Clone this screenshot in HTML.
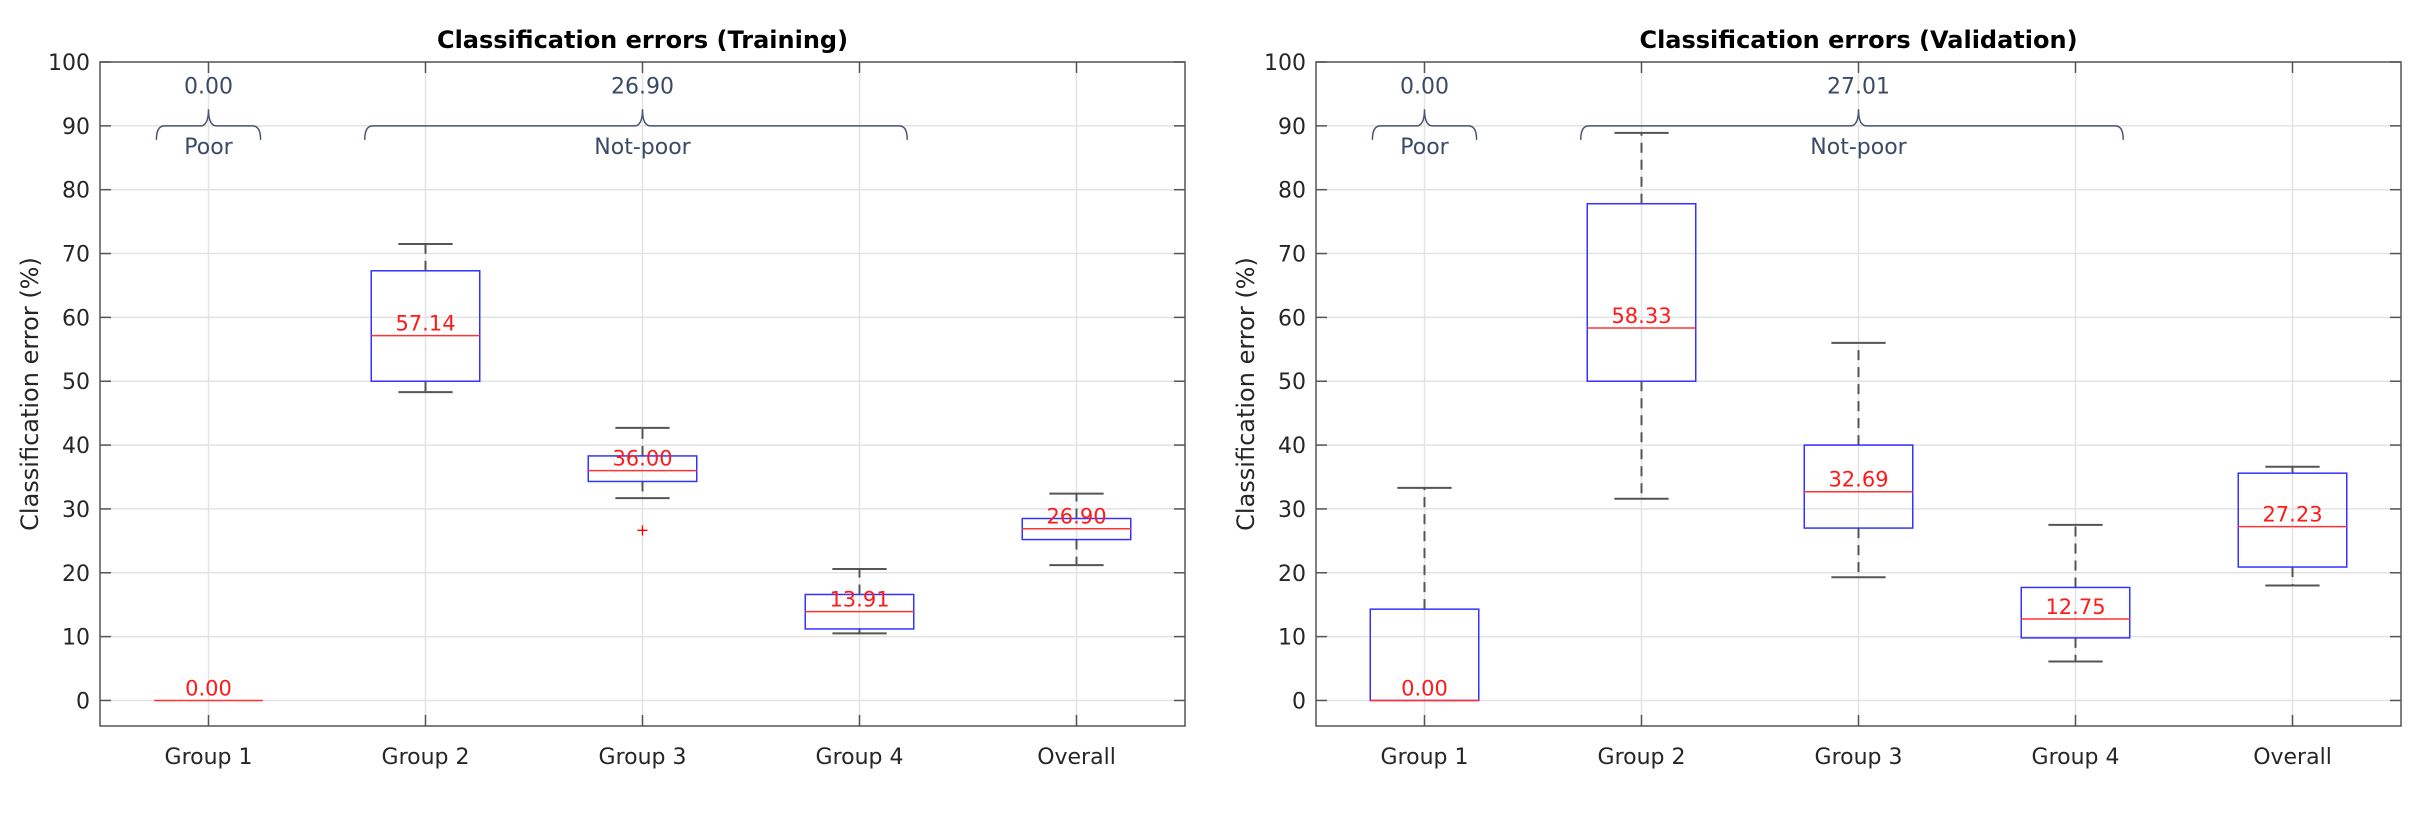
<!DOCTYPE html>
<html><head><meta charset="utf-8"><style>
html,body{margin:0;padding:0;background:#fff;width:2423px;height:817px;overflow:hidden}
svg text{font-family:"DejaVu Sans","Liberation Sans",sans-serif}
</style></head><body>
<svg id="chart" width="2423" height="817" xmlns="http://www.w3.org/2000/svg"></svg>
<script>
const categories = ["Group 1","Group 2","Group 3","Group 4","Overall"];
const yTicks = [0,10,20,30,40,50,60,70,80,90,100];
// Training
const trainLow = [0, 48.3, 31.7, 10.5, 21.2];
const trainQ1 = [0, 50.0, 34.3, 11.2, 25.2];
const trainMed = [0, 57.14, 36.00, 13.91, 26.90];
const trainQ3 = [0, 67.3, 38.3, 16.6, 28.5];
const trainHigh = [0, 71.5, 42.7, 20.6, 32.4];
const trainOutX = [3];
const trainOutY = [26.8];
const trainGroupVals = ["0.00","26.90"];
// Validation
const valLow = [0, 31.6, 19.3, 6.1, 18.0];
const valQ1 = [0, 50.0, 27.0, 9.8, 20.9];
const valMed = [0, 58.33, 32.69, 12.75, 27.23];
const valQ3 = [14.3, 77.8, 40.0, 17.7, 35.6];
const valHigh = [33.3, 88.9, 56.0, 27.5, 36.6];
const valOutX = [];
const valOutY = [];
const valGroupVals = ["0.00","27.01"];
const braceLabels = ["Poor","Not-poor"];
const braceStart = [0.76, 1.72];
const braceEnd = [1.24, 4.22];
const braceTip = [1, 3];

const NS="http://www.w3.org/2000/svg";
const svg=document.getElementById('chart');
function mk(tag,attrs,parent,text){const e=document.createElementNS(NS,tag);for(const k in attrs)e.setAttribute(k,attrs[k]);if(text!==undefined)e.textContent=text;(parent||svg).appendChild(e);return e;}

function panel(x0,x1,title,low,q1,med,q3,high,outX,outY,gvals,key){
  const y0=62,y1=726,yMin=-4,yMax=100;
  const X=v=>x0+(v-0.5)/5*(x1-x0);
  const Y=v=>y1-(v-yMin)/(yMax-yMin)*(y1-y0);
  const g=mk('g',{});
  
  
  yTicks.forEach(t=>{const l=mk('line',{x1:x0,x2:x1,y1:Y(t),y2:Y(t),stroke:'#e3e3e3','stroke-width':1.5},g);
    });
  categories.forEach((c,i)=>{const l=mk('line',{x1:X(i+1),x2:X(i+1),y1:y0,y2:y1,stroke:'#e3e3e3','stroke-width':1.5},g);
    });
  const r=mk('rect',{x:x0,y:y0,width:x1-x0,height:y1-y0,fill:'none',stroke:'#555','stroke-width':1.5},g);
  
  yTicks.forEach(t=>{
    mk('line',{x1:x0,x2:x0+11,y1:Y(t),y2:Y(t),stroke:'#555','stroke-width':1.5},g);
    mk('line',{x1:x1-11,x2:x1,y1:Y(t),y2:Y(t),stroke:'#555','stroke-width':1.5},g);
    const tx=mk('text',{x:x0-10,y:Y(t)+8,'text-anchor':'end','font-size':22,fill:'#262626'},g,String(t));
    
  });
  categories.forEach((c,i)=>{
    mk('line',{x1:X(i+1),x2:X(i+1),y1:y1,y2:y1-11,stroke:'#555','stroke-width':1.5},g);
    mk('line',{x1:X(i+1),x2:X(i+1),y1:y0,y2:y0+11,stroke:'#555','stroke-width':1.5},g);
    const tx=mk('text',{x:X(i+1),y:y1+38,'text-anchor':'middle','font-size':22,fill:'#262626'},g,c);
    
  });
  const tt=mk('text',{x:(x0+x1)/2,y:48,'text-anchor':'middle','font-size':24,'font-weight':'bold',fill:'#000'},g,title);
  
  const yl=mk('text',{x:0,y:0,'text-anchor':'middle','font-size':24,fill:'#262626',transform:`translate(${x0-62},${(y0+y1)/2}) rotate(-90)`},g,'Classification error (%)');
  
  const hw=0.25*(x1-x0)/5, cw=0.125*(x1-x0)/5;
  categories.forEach((c,i)=>{
    const cx=X(i+1);
    const bg=mk('g',{},g);
    
    
    if(high[i]>q3[i]) mk('line',{x1:cx,x2:cx,y1:Y(q3[i]),y2:Y(high[i]),stroke:'#555','stroke-width':2,'stroke-dasharray':'10,7'},bg);
    if(low[i]<q1[i]) mk('line',{x1:cx,x2:cx,y1:Y(q1[i]),y2:Y(low[i]),stroke:'#555','stroke-width':2,'stroke-dasharray':'10,7'},bg);
    if(high[i]>q3[i]) mk('line',{x1:cx-cw,x2:cx+cw,y1:Y(high[i]),y2:Y(high[i]),stroke:'#555','stroke-width':2},bg);
    if(low[i]<q1[i]) mk('line',{x1:cx-cw,x2:cx+cw,y1:Y(low[i]),y2:Y(low[i]),stroke:'#555','stroke-width':2},bg);
    if(q3[i]>q1[i]) mk('rect',{x:cx-hw,y:Y(q3[i]),width:2*hw,height:Y(q1[i])-Y(q3[i]),fill:'none',stroke:'#3333ff','stroke-width':1.5},bg);
    mk('line',{x1:cx-hw,x2:cx+hw,y1:Y(med[i]),y2:Y(med[i]),stroke:'#ff3333','stroke-width':1.5},bg);
    const mt=mk('text',{x:cx,y:Y(med[i])-5,'text-anchor':'middle','font-size':21,fill:'#ff1a1a'},bg,med[i].toFixed(2));
    
  });
  outX.forEach((ox,j)=>{const o=mk('text',{x:X(ox),y:Y(outY[j])+6,'text-anchor':'middle','font-size':16,fill:'#ff0000'},g,'+');
    });
  braceLabels.forEach((lab,j)=>{
    const a=X(braceStart[j]),b=X(braceEnd[j]),m=X(braceTip[j]),yl0=Y(90),yh=Y(87.8),yt=Y(92.6);
    const p=mk('path',{d:`M${a},${yh} Q${a},${yl0} ${a+8},${yl0} L${m-8},${yl0} Q${m},${yl0} ${m},${yt} Q${m},${yl0} ${m+8},${yl0} L${b-8},${yl0} Q${b},${yl0} ${b},${yh}`,fill:'none',stroke:'#4a5670','stroke-width':1.5},g);
    
    const t1=mk('text',{x:m,y:Y(95.1),'text-anchor':'middle','font-size':22,fill:'#3b4a66'},g,gvals[j]);
    
    const t2=mk('text',{x:m,y:Y(85.6),'text-anchor':'middle','font-size':22,fill:'#3b4a66'},g,lab);
    
  });
}
panel(100,1185,'Classification errors (Training)',trainLow,trainQ1,trainMed,trainQ3,trainHigh,trainOutX,trainOutY,trainGroupVals,'training');
panel(1316,2401,'Classification errors (Validation)',valLow,valQ1,valMed,valQ3,valHigh,valOutX,valOutY,valGroupVals,'validation');
</script>
</body></html>
